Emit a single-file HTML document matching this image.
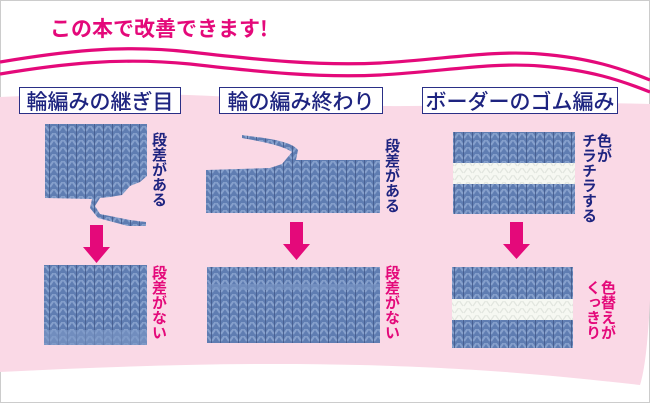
<!DOCTYPE html>
<html><head><meta charset="utf-8"><style>
html,body{margin:0;padding:0;background:#fff}
body{width:650px;height:403px;overflow:hidden;position:relative;font-family:"Liberation Sans","Noto Sans CJK JP",sans-serif}
svg{position:absolute;left:0;top:0}
.t{position:absolute}
.h{position:absolute;background:#fff;border:1.5px solid #2a2f86;color:#1e2480;font-size:21px;line-height:26px;text-align:center;box-sizing:border-box;font-family:"Noto Sans CJK JP",sans-serif;font-weight:500}
.v{position:absolute;writing-mode:vertical-rl;font-size:15px;line-height:15px;font-weight:bold;font-family:"Noto Sans CJK JP",sans-serif}
.n{color:#1e2480}.p{color:#e4097a}
</style></head><body>
<svg width="650" height="403" viewBox="0 0 650 403">
<defs>
<pattern id="k" width="9" height="7" patternUnits="userSpaceOnUse">
<rect width="9" height="7" fill="#5f7db2"/>
<path d="M0.5 0 L4 5 M8.5 0 L5 5" stroke="#86a0cc" stroke-width="2" fill="none"/>
<path d="M4.5 0 V7" stroke="#42598a" stroke-width="0.8"/>
</pattern>
<pattern id="w" width="9" height="7" patternUnits="userSpaceOnUse">
<rect width="9" height="7" fill="#f6f8f2"/>
<path d="M0.5 0 L4 5 M8.5 0 L5 5" stroke="#e2e6df" stroke-width="1.3" fill="none"/>
</pattern>
</defs>
<rect x="0.5" y="0.5" width="649" height="402" fill="#fff" stroke="#ccc"/>
<path d="M0 97 C120 92 200 93 300 102 C400 112 500 100 650 104 L650 300 C648 340 645 370 640 385 C560 376 480 368 360 365 C240 362 120 366 0 372 Z" fill="#fad9e6"/>
<path d="M0 62 C60 52 120 44 190 52 C260 60 320 66 380 63 C440 60 490 50 540 54 C590 58 620 68 650 80" fill="none" stroke="#e4097a" stroke-width="3.2"/>
<path d="M0 74 C60 64 120 57 190 64 C260 72 320 78 380 75 C440 72 490 62 540 66 C590 70 620 80 650 92" fill="none" stroke="#e4097a" stroke-width="3.2"/>
<path d="M45 124 H147 V176 L140 182 L130 186 L122 195 L110 197 L100 198 L95 206 L100 214 L130 220 L146 222 L146 226 L128 226 L98 218 L90 208 L92 199 L45 198 Z" fill="url(#k)"/>
<rect x="44" y="265" width="103" height="80" fill="url(#k)"/>
<rect x="44" y="330" width="103" height="15" fill="#7d97c6" opacity=".6"/>
<path d="M242 135 C262 138 290 140 298 150 L296 160 L380 160 V213 H206 V170 L270 168 L282 164 L292 152 C282 145 258 141 242 138 Z" fill="url(#k)"/>
<rect x="207" y="267" width="173" height="76" fill="url(#k)"/>
<rect x="207" y="284" width="173" height="6" fill="#7d97c6" opacity=".6"/>
<rect x="453" y="132" width="122" height="82" fill="url(#k)"/>
<rect x="453" y="163" width="122" height="21" fill="url(#w)"/>
<rect x="452" y="267" width="121" height="81" fill="url(#k)"/>
<rect x="452" y="299" width="121" height="21" fill="url(#w)"/>
<path d="M90 225 H103 V247 H110 L96.5 263 L83 247 H90 Z" fill="#e4097a"/>
<path d="M290 222 H303 V244 H310 L296.5 260 L283 244 H290 Z" fill="#e4097a"/>
<path d="M510 222 H523 V244 H530 L516.5 259 L503 244 H510 Z" fill="#e4097a"/>
</svg>
<div class="t" style="left:50px;top:13px;font-size:21px;color:#e4097a;font-family:'Noto Sans CJK JP',sans-serif;font-weight:bold">この本で改善できます!</div>
<div class="h" style="left:19px;top:87px;width:162px;height:27px">輪編みの継ぎ目</div>
<div class="h" style="left:219px;top:87px;width:164px;height:27px">輪の編み終わり</div>
<div class="h" style="left:422px;top:87px;width:196px;height:27px">ボーダーのゴム編み</div>
<div class="v n" style="left:152px;top:132px">段差がある</div>
<div class="v p" style="left:152px;top:265px">段差がない</div>
<div class="v n" style="left:385px;top:138px">段差がある</div>
<div class="v p" style="left:385px;top:265px">段差がない</div>
<div class="v n" style="left:582px;top:133px;line-height:15px">色が<br>チラチラする</div>
<div class="v p" style="left:586px;top:280px;line-height:15px">色替えが<br>くっきり</div>
</body></html>
